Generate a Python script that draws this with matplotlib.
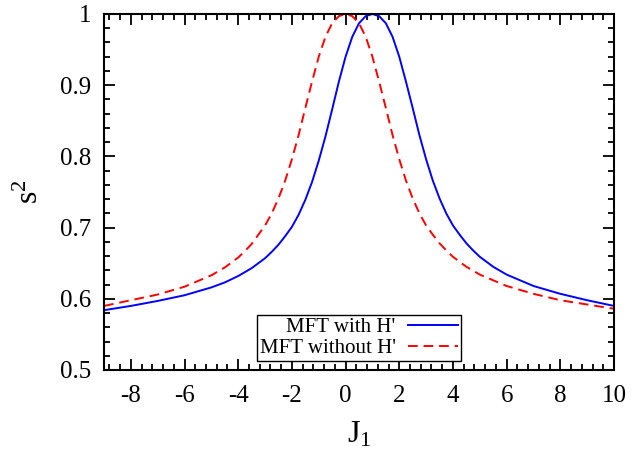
import matplotlib
matplotlib.use('Agg')
import matplotlib.pyplot as plt
from matplotlib.ticker import MultipleLocator, FuncFormatter

plt.rcParams['font.family'] = ['Liberation Serif', 'DejaVu Serif']
plt.rcParams['mathtext.fontset'] = 'custom'
plt.rcParams['mathtext.rm'] = 'Liberation Serif'
plt.rcParams['axes.unicode_minus'] = False

# MFT with H' (solid blue)
x_with = [-9, -8, -7, -6, -5, -4.5, -4, -3.5, -3, -2.75, -2.5, -2.25, -2,
          -1.75, -1.5, -1.25, -1, -0.75, -0.5, -0.25, 0, 0.25, 0.5, 0.75, 1,
          1.25, 1.5, 1.75, 2, 2.25, 2.5, 2.75, 3, 3.25, 3.5, 3.75, 4, 4.25,
          4.5, 4.75, 5, 5.5, 6, 6.5, 7, 8, 9, 10]
s2_with = [0.584, 0.590, 0.597, 0.605, 0.616, 0.623, 0.632, 0.643, 0.657,
           0.666, 0.676, 0.688, 0.701, 0.718, 0.739, 0.764, 0.794, 0.828,
           0.866, 0.905, 0.940, 0.968, 0.987, 0.997, 1.000, 0.997, 0.987,
           0.968, 0.940, 0.905, 0.868, 0.830, 0.796, 0.766, 0.741, 0.720,
           0.703, 0.690, 0.678, 0.668, 0.659, 0.645, 0.634, 0.626, 0.618,
           0.607, 0.598, 0.590]

# MFT without H' (dashed red)
x_without = [-9, -8, -7, -6, -5.5, -5, -4.5, -4, -3.75, -3.5, -3.25, -3,
             -2.75, -2.5, -2.25, -2, -1.75, -1.5, -1.25, -1, -0.75, -0.5,
             -0.25, 0, 0.25, 0.5, 0.75, 1, 1.25, 1.5, 1.75, 2, 2.25, 2.5,
             2.75, 3, 3.25, 3.5, 3.75, 4, 4.5, 5, 5.5, 6, 7, 8, 9, 10]
s2_without = [0.590, 0.598, 0.606, 0.617, 0.625, 0.633, 0.644, 0.658, 0.667,
              0.677, 0.690, 0.703, 0.720, 0.741, 0.766, 0.796, 0.830, 0.868,
              0.905, 0.940, 0.968, 0.987, 0.997, 1.000, 0.997, 0.987, 0.968,
              0.940, 0.905, 0.868, 0.830, 0.796, 0.766, 0.741, 0.720, 0.703,
              0.690, 0.678, 0.668, 0.659, 0.645, 0.634, 0.626, 0.618, 0.607,
              0.598, 0.592, 0.586]

fig = plt.figure(figsize=(6.42, 4.49), dpi=100)
ax = fig.add_axes([104/642, 1 - 370/449, 510/642, 356/449])

ax.plot(x_with, s2_with, color='#0000ff', lw=1.4, label="MFT with H'")
ax.plot(x_without, s2_without, color='#ff0000', lw=1.4, dashes=(5, 3),
        label="MFT without H'")

ax.set_xlim(-9, 10)
ax.set_ylim(0.5, 1.0)
ax.xaxis.set_major_locator(MultipleLocator(2))
ax.xaxis.set_minor_locator(MultipleLocator(0.4))
ax.yaxis.set_major_locator(MultipleLocator(0.1))
ax.yaxis.set_minor_locator(MultipleLocator(0.02))
ax.yaxis.set_major_formatter(FuncFormatter(lambda v, p: '%g' % round(v, 2)))

ax.tick_params(which='both', direction='in', top=True, right=True,
               width=1.3, labelsize=18)
ax.tick_params(which='major', length=8)
ax.tick_params(which='minor', length=4.5)
ax.tick_params(axis='y', pad=9)
ax.tick_params(axis='x', pad=11)
for sp in ax.spines.values():
    sp.set_linewidth(1.5)

ax.set_xlabel(r'$\mathregular{J_1}$', fontsize=23, labelpad=9)
ax.set_ylabel(r'$\mathregular{s^2}$', fontsize=23, labelpad=11)

leg = ax.legend(loc='lower center', bbox_to_anchor=(0.5, 0.025),
                borderaxespad=0, markerfirst=False, fancybox=False,
                edgecolor='black', framealpha=1, fontsize=15,
                handlelength=2.4, handletextpad=0.6, labelspacing=0.05,
                borderpad=0.15)
leg.get_frame().set_linewidth(1.0)

fig.savefig('out.png', dpi=100)
